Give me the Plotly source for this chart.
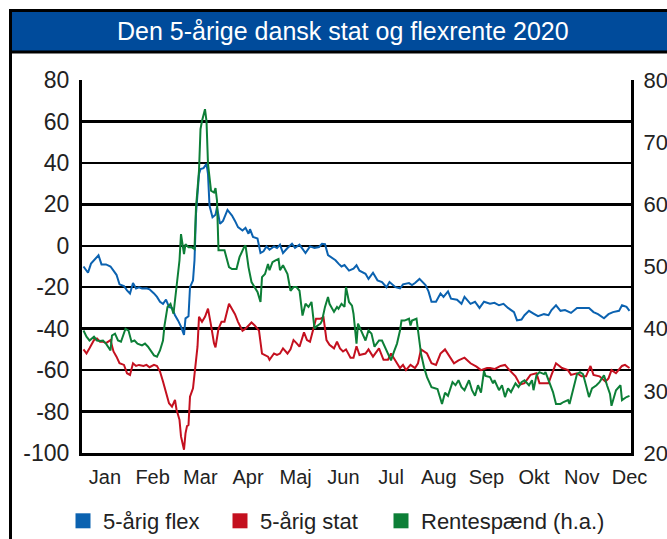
import numpy as np
import pandas as pd
import plotly.graph_objects as go

# ---------------- data (day offsets from 1 Jan 2020) ----------------
flex_day = [1, 4, 6, 9, 11, 13, 16, 19, 21, 23, 25, 28, 30, 32, 34, 36, 38, 40, 43, 45, 48, 50, 52, 54, 56, 58, 60, 62,
            64, 66, 68, 69, 71, 72, 74, 75, 76, 78, 79, 81, 83, 84, 85, 87, 89, 90, 92, 94, 97, 100, 102, 104, 107, 109,
            111, 112, 114, 117, 119, 121, 123, 125, 128, 130, 132, 134, 137, 140, 142, 145, 149, 152, 155, 158, 160,
            162, 164, 167, 169, 171, 173, 175, 178, 181, 183, 185, 189, 191, 194, 197, 200, 203, 205, 209, 212, 214,
            218, 220, 222, 225, 229, 231, 233, 236, 239, 241, 244, 246, 250, 253, 255, 259, 262, 265, 268, 272, 275,
            278, 281, 284, 288, 290, 293, 295, 298, 301, 304, 308, 311, 313, 316, 319, 322, 326, 330, 334, 338, 341,
            344, 348, 351, 354, 358, 360, 363, 365]
flex = [-10, -13, -8.6, -6, -4.6, -9, -9, -10, -12, -14, -18.6, -19.5, -21.5, -23, -18, -20.6, -20, -20.6, -20.5, -21,
        -23, -24.7, -27, -28, -26, -29.5, -30, -33.5, -36, -39, -43, -35, -34, -20, -16.7, -7, 15.4, 34.6, 37, 37.5,
        39.5, 34.6, 19.4, 13.8, 15, 18.6, 10.6, 12, 17.3, 14.6, 12, 9, 7.4, 8.7, 5.8, 8, 4.3, 3.5, -3.5, -2.7, -0.3,
        -1.9, -0.3, -1.1, 0.5, -3.5, -1.1, 1, -1, 0.5, -3.5, -0.3, -1, -0.6, 1, 0.8, -4.5, -6, -7, -8.6, -10, -9.3,
        -12, -11, -9.4, -12, -13.5, -16, -13, -16.7, -17.5, -20, -17.5, -20, -20.6, -18.6, -18, -19, -18, -16, -19,
        -22, -27, -27, -23, -24.7, -22, -25.5, -26, -28, -24.7, -28, -27, -30, -27, -28, -27.5, -28.7, -28, -30, -32,
        -36, -35.6, -33.5, -31.4, -32.7, -34, -33, -33.5, -31, -28.7, -31.4, -31, -32.4, -30, -30, -30, -32, -33,
        -35, -33, -32, -31.4, -28.7, -29.5, -31.4]

stat_day = [1, 3, 5, 8, 10, 12, 14, 16, 19, 21, 23, 25, 28, 30, 32, 34, 36, 38, 41, 43, 45, 48, 50, 52, 54, 56, 58, 60,
            62, 63, 65, 66, 68, 69, 70, 71, 72, 74, 75, 77, 78, 80, 82, 84, 86, 88, 89, 91, 93, 95, 98, 100, 102, 104,
            107, 109, 111, 113, 115, 118, 120, 122, 124, 125, 128, 130, 132, 134, 137, 139, 141, 143, 145, 148, 150,
            152, 154, 156, 159, 161, 163, 165, 168, 170, 172, 174, 176, 179, 181, 183, 185, 189, 191, 194, 198, 201,
            204, 206, 210, 212, 214, 216, 219, 222, 224, 226, 230, 233, 236, 239, 242, 245, 248, 251, 255, 259, 263,
            266, 270, 272, 275, 279, 282, 285, 289, 292, 295, 299, 303, 305, 311, 313, 316, 320, 324, 326, 330, 333,
            336, 339, 341, 345, 349, 351, 353, 356, 360, 362, 365]
stat = [-50, -52, -49.5, -45.5, -44.7, -46.3, -46.3, -47, -45.5, -51, -53.5, -56.7, -57.5, -61.5, -62.3, -56.7, -58,
        -57.5, -58, -57.5, -58.6, -57.5, -58, -60.7, -65.5, -71, -76, -77.6, -74.4, -79, -84, -92, -98.4, -90.5, -87,
        -86.5, -72.8, -68.8, -61.5, -48.7, -34.3, -36.7, -34.3, -30.3, -38.3, -47, -49, -40, -36.7, -36.7, -28, -30.3,
        -33, -36.7, -41, -40, -38.3, -37, -38.3, -41, -52, -52.7, -53.5, -55, -52, -52.7, -52, -49.5, -52, -50, -45.5,
        -47, -48.7, -41.8, -45.5, -46.3, -40, -35.2, -35.2, -34.5, -45.5, -47.8, -49.5, -46.3, -49.5, -51, -50, -54,
        -54, -48.5, -52.7, -52, -50, -53.5, -49.5, -55, -55, -52, -56.7, -59, -57.5, -60, -57.5, -59, -56.7, -50, -52,
        -56.7, -57.5, -52, -50, -53.5, -56.7, -55.3, -54, -56.7, -58.3, -60, -59, -59, -59.5, -58, -57.5, -60, -63,
        -67, -66.3, -62.3, -61.5, -66.3, -66.3, -62.3, -56.7, -59, -60, -62.3, -61.5, -63, -63, -58, -62.3, -63,
        -65.5, -64, -60, -61.5, -58, -57.5, -59]

spread_day = [1, 3, 5, 8, 10, 12, 14, 16, 19, 20, 22, 24, 26, 29, 31, 33, 35, 37, 40, 42, 44, 46, 48, 50, 52, 54, 55,
              57, 59, 61, 63, 65, 66, 68, 69, 71, 73, 75, 76, 78, 79, 80, 82, 83, 84, 86, 88, 89, 90, 91, 93, 95, 98,
              100, 103, 105, 108, 109, 111, 113, 115, 117, 119, 120, 122, 124, 125, 127, 129, 131, 132, 134, 137, 139,
              141, 143, 145, 147, 149, 151, 153, 155, 156, 159, 160, 162, 164, 165, 168, 170, 171, 173, 175, 176, 178,
              180, 181, 182, 183, 184, 186, 188, 189, 191, 193, 195, 198, 200, 202, 204, 206, 208, 210, 212, 213, 215,
              218, 219, 220, 223, 224, 226, 228, 230, 233, 237, 238, 240, 242, 244, 247, 249, 251, 253, 255, 258, 260,
              262, 264, 266, 268, 269, 272, 274, 275, 278, 280, 282, 284, 286, 289, 291, 293, 295, 298, 300, 301, 303,
              305, 308, 309, 312, 314, 316, 319, 321, 324, 325, 328, 330, 332, 334, 336, 338, 340, 343, 345, 348, 350,
              352, 353, 355, 356, 359, 360, 363, 365]
spread = [39.7, 38.7, 38.1, 38.7, 38.1, 38, 38.1, 37.6, 36.5, 38.9, 39.2, 38.1, 37.9, 40, 39.7, 37.9, 38.1, 37.6, 37.3,
          37.6, 37.1, 36.3, 35.7, 35.5, 36.5, 38.1, 40.5, 43.5, 44, 42.4, 46.7, 51, 55.2, 52, 53.6, 53.1, 53.1, 52.8,
          59.5, 65.4, 72.1, 73.4, 75.3, 73.4, 66.5, 62.2, 61.9, 62.6, 60.6, 52.6, 52.6, 52.6, 49.9, 49.6, 49.6, 51.5,
          53.1, 53.4, 49.9, 47.5, 46.7, 45.9, 44.3, 48.3, 48.8, 50.4, 49.4, 50.7, 51, 51.2, 49.4, 50.2, 48.8, 46.1,
          46.7, 46.7, 46.1, 42.1, 44, 43.5, 44.3, 40, 40.3, 40.8, 41.3, 43.5, 45.1, 44, 42.7, 43.5, 43.2, 44, 43.5,
          46.7, 44.3, 43.7, 42.4, 40.3, 37.6, 40.8, 39.7, 38.9, 38.1, 39.7, 39.2, 37.1, 38.1, 38.1, 37.1, 36, 34.9,
          36.3, 37.6, 39.7, 41.3, 41.3, 41.6, 40.5, 41.3, 41.6, 40, 36, 33.8, 32.2, 30.6, 30.3, 29.5, 27.9, 29.7, 29.2,
          31.4, 30.9, 31.7, 30.6, 30.1, 31.7, 30.1, 29.2, 30.9, 29.7, 33.2, 32.4, 32.2, 31.2, 31.7, 30.1, 30.9, 29,
          30.4, 29.8, 31.2, 30.6, 31.4, 31.7, 30.9, 31.7, 30.1, 32.5, 33, 32.7, 33, 31.2, 29.8, 27.9, 27.9, 28.2, 28.5,
          27.9, 30.6, 32.7, 33, 32.7, 30.9, 29, 30.4, 30.9, 31.4, 32.5, 30.9, 29.5, 27.6, 29.5, 30.1, 30.9, 28.5, 29,
          29.2]

months = ["Jan", "Feb", "Mar", "Apr", "Maj", "Jun", "Jul", "Aug", "Sep", "Okt", "Nov", "Dec"]
left_ticks = [80, 60, 40, 20, 0, -20, -40, -60, -80, -100]
right_ticks = [80, 70, 60, 50, 40, 30, 20]
names = ["5-årig flex", "5-årig stat", "Rentespænd (h.a.)"]
title = "Den 5-årige dansk stat og flexrente 2020"

# ---------------- figure ----------------
base = pd.Timestamp("2020-01-01")
to_dates = lambda d: base + pd.to_timedelta(d, unit="D")

BLUE, RED, GREEN = "#0b62b0", "#c4101f", "#0d7f37"
FONT = "Liberation Sans, Arial, sans-serif"
TXT = "#222222"

fig = go.Figure()
fig.add_trace(go.Scatter(x=to_dates(flex_day), y=flex, mode="lines", line=dict(color=BLUE, width=2),
                         showlegend=False))
fig.add_trace(go.Scatter(x=to_dates(stat_day), y=stat, mode="lines", line=dict(color=RED, width=2),
                         showlegend=False))
fig.add_trace(go.Scatter(x=to_dates(spread_day), y=spread, mode="lines", line=dict(color=GREEN, width=2),
                         yaxis="y2", showlegend=False))
legend_keys = ["legend", "legend2", "legend3"]
for nm, col, lg in zip(names, [BLUE, RED, GREEN], legend_keys):
    fig.add_trace(go.Scatter(x=[None], y=[None], mode="markers", name=nm, legend=lg,
                             marker=dict(symbol="square", size=15, color=col)))

# page body margin is removed in the page script below, so pixel = figure pixel
W, H = 667, 539
L, T = 82, 80
R = W - 631
B = H - 453
pw, ph = W - L - R, H - T - B
px = lambda x: (x - L) / pw
py = lambda y: (H - B - y) / ph

month_pos = to_dates(np.linspace(15.3, 365.0, len(months)))

legend_style = dict(orientation="h", xanchor="left", yanchor="top", y=py(500),
                    font=dict(size=22, color=TXT), itemclick=False, bgcolor="rgba(0,0,0,0)")

fig.update_layout(
    width=W, height=H, margin=dict(l=L, r=R, t=T, b=B, autoexpand=False),
    paper_bgcolor="white", plot_bgcolor="white",
    font=dict(family=FONT, color=TXT),
    xaxis=dict(range=[base, base + pd.Timedelta(days=366)], tickvals=month_pos, ticktext=months,
               showgrid=False, zeroline=False, showline=True, linecolor="black", linewidth=3,
               ticks="", tickfont=dict(size=20, color=TXT), ticklabelstandoff=4),
    yaxis=dict(range=[-100, 80], tickvals=left_ticks, ticktext=[str(v) for v in left_ticks],
               showgrid=True, gridcolor="black", gridwidth=2.5, zeroline=False,
               showline=True, linecolor="black", linewidth=3, ticks="",
               tickfont=dict(size=23, color=TXT), ticklabelstandoff=5),
    yaxis2=dict(range=[20, 80], tickvals=right_ticks, ticktext=[str(v) for v in right_ticks],
                overlaying="y", side="right", showgrid=False, zeroline=False,
                showline=True, linecolor="black", linewidth=3, ticks="",
                tickfont=dict(size=22, color=TXT), ticklabelstandoff=5),
    legend=dict(legend_style, x=px(63)),
    legend2=dict(legend_style, x=px(220)),
    legend3=dict(legend_style, x=px(381)),
    shapes=[
        dict(type="rect", xref="paper", yref="paper", x0=px(10.5), x1=px(690), y0=py(52), y1=py(10.5),
             fillcolor="#004b9b", line=dict(color="black", width=3), layer="above"),
        dict(type="line", xref="paper", yref="paper", x0=px(10.5), x1=px(10.5), y0=py(580), y1=py(52),
             line=dict(color="black", width=3)),
    ],
    annotations=[
        dict(text=title, xref="paper", yref="paper", x=px(343), y=py(31), xanchor="center", yanchor="middle",
             showarrow=False, font=dict(size=25, color="white", family=FONT)),
    ],
)

fig.write_html(
    "out.html",
    config={"displayModeBar": False, "staticPlot": True},
    post_script="document.body.style.margin='0';document.body.style.padding='0';"
                "document.body.style.overflow='hidden';",
)
